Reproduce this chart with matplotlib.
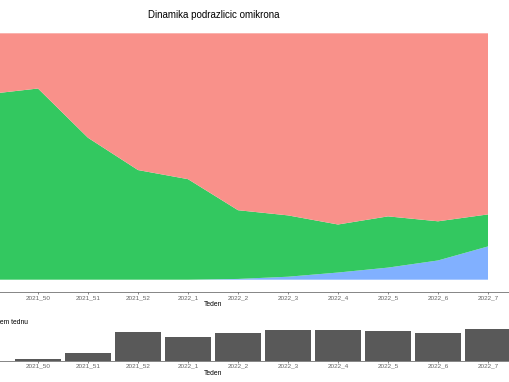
"""Dinamika podrazlicic omikrona - stacked shares per week plus sample counts"""

import matplotlib.pyplot as plt
import numpy as np

plt.rcParams['font.family'] = ['Liberation Sans', 'DejaVu Sans']

weeks = ['2021_48', '2021_49', '2021_50', '2021_51', '2021_52', '2022_1',
         '2022_2', '2022_3', '2022_4', '2022_5', '2022_6', '2022_7']

# share of each sub-lineage per week (stacked bottom to top: blue, green, red)
share_ba2 = [0.0, 0.0, 0.0, 0.0, 0.0, 0.0, 0.003, 0.012, 0.029, 0.049, 0.078, 0.135]
share_ba1 = [0.70, 0.753, 0.776, 0.576, 0.445, 0.408, 0.279, 0.249, 0.195, 0.208, 0.159, 0.130]
share_ba11 = [0.30, 0.247, 0.224, 0.424, 0.555, 0.592, 0.718, 0.739, 0.776, 0.743, 0.763, 0.735]

# number of sequenced samples per week
n_samples = [0, 0, 15, 80, 285, 237, 272, 305, 305, 298, 272, 312]

W, H = 510, 382
fig = plt.figure(figsize=(W / 100, H / 100), dpi=100)


def px_axes(left, top, right, bottom):
    """add axes given pixel edges of the panel"""
    return fig.add_axes([left / W, 1 - bottom / H, (right - left) / W, (bottom - top) / H])


def style_axis(ax):
    for s in ['top', 'right', 'left']:
        ax.spines[s].set_visible(False)
    ax.spines['bottom'].set_color('#555555')
    ax.spines['bottom'].set_linewidth(0.5)
    ax.set_xticks(range(len(weeks)))
    ax.set_xticklabels(weeks)
    ax.tick_params(axis='x', length=1.5, width=0.5, color='#555555', pad=0.8,
                   labelsize=4.6, labelcolor='#666666')
    ax.set_yticks([])
    ax.set_xlim(-0.6, len(weeks) - 0.4)
    ax.set_xlabel('Teden', fontsize=4.9, labelpad=0.8)


x = np.arange(len(weeks))

# top panel: stacked area
ax1 = px_axes(-92, 21, 518, 292)
ax1.stackplot(x, share_ba2, share_ba1, share_ba11,
              colors=['#81B0FF', '#33C860', '#F9918A'], linewidth=0)
ax1.set_ylim(-0.05, 1.05)
style_axis(ax1)

# bottom panel: samples per week
ax2 = px_axes(-92, 327.5, 518, 360.5)
ax2.bar(x, n_samples, width=0.93, color='#595959', linewidth=0)
ax2.set_ylim(0, 330)
style_axis(ax2)

fig.text(214 / W, 1 - 15 / H, 'Dinamika podrazlicic omikrona', ha='center', va='center',
         fontsize=7)
fig.text(28 / W, 1 - 321.5 / H, 'Število vzorcev v posameznem tednu', ha='right',
         va='center', fontsize=4.9)

fig.savefig('out.png', dpi=100)
